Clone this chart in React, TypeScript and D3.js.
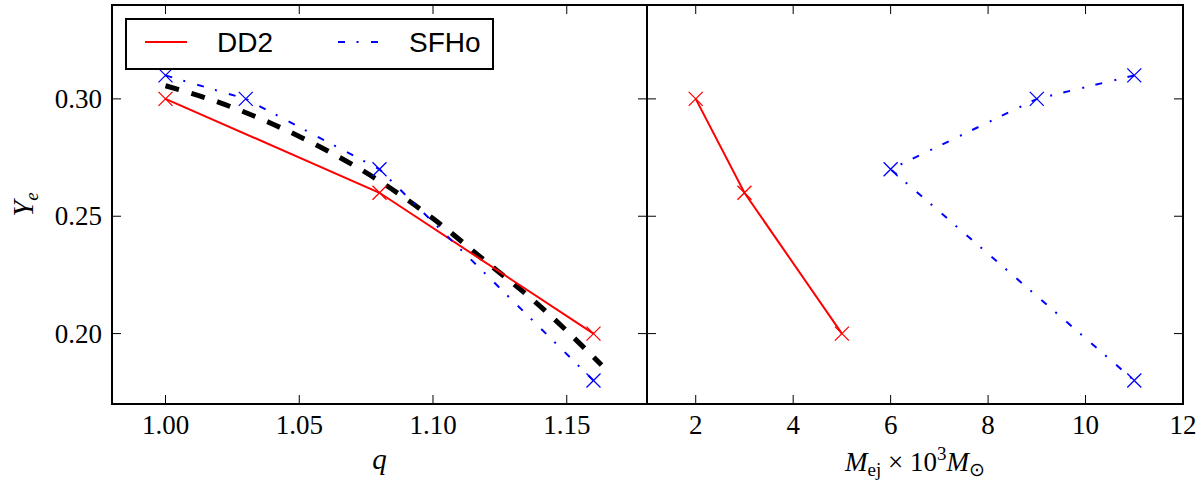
import React from "react";
import * as d3 from "d3";

// ---- data ----
const qDD2 = [1.0, 1.08, 1.16];
const yeDD2 = [0.30, 0.26, 0.20];
const mejDD2 = [2, 3, 5];

const qSFHo = [1.0, 1.03, 1.08, 1.16];
const yeSFHo = [0.31, 0.30, 0.27, 0.18];
const mejSFHo = [11, 9, 6, 11];

const fitQ = [1.0, 1.02, 1.04, 1.06, 1.08, 1.10, 1.12, 1.14, 1.163];
const fitYe = [0.3056, 0.2985, 0.2893, 0.2782, 0.2650, 0.2490, 0.2305, 0.2117, 0.1866];

const qTicks = [1.0, 1.05, 1.1, 1.15];
const mTicks = [2, 4, 6, 8, 10, 12];
const yTicks = [0.2, 0.25, 0.3];

const legendLabels = ["DD2", "SFHo"];

// ---- layout ----
const W = 1202;
const H = 480;
const TOP = 5;
const BOTTOM = 404;
const L0 = 112;
const L1 = 647;
const R0 = 647;
const R1 = 1183;

const RED = "#ff0000";
const BLUE = "#0000ff";
const DASHDOT = "7 11.5 2 12.5";
const serif = "Liberation Serif";
const sans = "Liberation Sans";

const xq = d3.scaleLinear().domain([0.98, 1.18]).range([L0, L1]);
const xm = d3.scaleLinear().domain([1, 12]).range([R0, R1]);
const y = d3.scaleLinear().domain([0.17, 0.34]).range([BOTTOM, TOP]);

function Marker({ cx, cy, color }: { cx: number; cy: number; color: string }) {
  const s = 7;
  return (
    <path
      d={`M${cx - s},${cy - s}L${cx + s},${cy + s}M${cx - s},${cy + s}L${cx + s},${cy - s}`}
      stroke={color}
      strokeWidth={1.3}
      fill="none"
    />
  );
}

function Frame({
  x,
  x0,
  x1,
  xticks,
  fmt,
  showY,
}: {
  x: d3.ScaleLinear<number, number>;
  x0: number;
  x1: number;
  xticks: number[];
  fmt: (v: number) => string;
  showY: boolean;
}) {
  const tl = 9;
  return (
    <g>
      {xticks.map((t) => (
        <g key={"xt" + t}>
          <line x1={x(t)} x2={x(t)} y1={BOTTOM} y2={BOTTOM - tl} stroke="#000" strokeWidth={1} />
          <line x1={x(t)} x2={x(t)} y1={TOP} y2={TOP + tl} stroke="#000" strokeWidth={1} />
          <text
            x={x(t)}
            y={434}
            textAnchor="middle"
            style={{ fontFamily: serif, fontSize: "27px" }}
            fill="#000"
          >
            {fmt(t)}
          </text>
        </g>
      ))}
      {yTicks.map((t) => (
        <g key={"yt" + t}>
          <line x1={x0} x2={x0 + tl} y1={y(t)} y2={y(t)} stroke="#000" strokeWidth={1} />
          <line x1={x1} x2={x1 - tl} y1={y(t)} y2={y(t)} stroke="#000" strokeWidth={1} />
          {showY && (
            <text
              x={102}
              y={y(t) + 9}
              textAnchor="end"
              style={{ fontFamily: serif, fontSize: "27px" }}
              fill="#000"
            >
              {t.toFixed(2)}
            </text>
          )}
        </g>
      ))}
      <rect x={x0} y={TOP} width={x1 - x0} height={BOTTOM - TOP} fill="none" stroke="#000" strokeWidth={2} />
    </g>
  );
}

export default function App() {
  const lineQ = d3
    .line<[number, number]>()
    .x((d) => xq(d[0]))
    .y((d) => y(d[1]));
  const lineM = d3
    .line<[number, number]>()
    .x((d) => xm(d[0]))
    .y((d) => y(d[1]));
  const fitLine = d3
    .line<[number, number]>()
    .x((d) => xq(d[0]))
    .y((d) => y(d[1]))
    .curve(d3.curveMonotoneX);

  const dd2Q: [number, number][] = qDD2.map((q, i) => [q, yeDD2[i]]);
  const sfhoQ: [number, number][] = qSFHo.map((q, i) => [q, yeSFHo[i]]);
  const dd2M: [number, number][] = mejDD2.map((m, i) => [m, yeDD2[i]]);
  const sfhoM: [number, number][] = mejSFHo.map((m, i) => [m, yeSFHo[i]]);
  const fit: [number, number][] = fitQ.map((q, i) => [q, fitYe[i]]);

  const legY = 42;
  const mathStyle = { fontFamily: serif, fontSize: "27px" };

  return (
    <svg
      width={W}
      height={H}
      viewBox={`0 0 ${W} ${H}`}
      style={{ position: "absolute", left: 0, top: 0, background: "#fff" }}
    >
      <rect x={0} y={0} width={W} height={H} fill="#fff" />
      <defs>
        <clipPath id="clipL">
          <rect x={L0} y={TOP} width={L1 - L0} height={BOTTOM - TOP} />
        </clipPath>
        <clipPath id="clipR">
          <rect x={R0} y={TOP} width={R1 - R0} height={BOTTOM - TOP} />
        </clipPath>
      </defs>

      {/* left panel */}
      <g clipPath="url(#clipL)">
        <path d={fitLine(fit) || ""} fill="none" stroke="#000" strokeWidth={5} strokeDasharray="14 13" />
        <path d={lineQ(dd2Q) || ""} fill="none" stroke={RED} strokeWidth={2} />
        <path d={lineQ(sfhoQ) || ""} fill="none" stroke={BLUE} strokeWidth={2} strokeDasharray={DASHDOT} />
        {dd2Q.map((d, i) => (
          <Marker key={"a" + i} cx={xq(d[0])} cy={y(d[1])} color={RED} />
        ))}
        {sfhoQ.map((d, i) => (
          <Marker key={"b" + i} cx={xq(d[0])} cy={y(d[1])} color={BLUE} />
        ))}
      </g>

      {/* right panel */}
      <g clipPath="url(#clipR)">
        <path d={lineM(dd2M) || ""} fill="none" stroke={RED} strokeWidth={2} />
        <path d={lineM(sfhoM) || ""} fill="none" stroke={BLUE} strokeWidth={2} strokeDasharray={DASHDOT} />
        {dd2M.map((d, i) => (
          <Marker key={"c" + i} cx={xm(d[0])} cy={y(d[1])} color={RED} />
        ))}
        {sfhoM.map((d, i) => (
          <Marker key={"d" + i} cx={xm(d[0])} cy={y(d[1])} color={BLUE} />
        ))}
      </g>

      <Frame x={xq} x0={L0} x1={L1} xticks={qTicks} fmt={(v) => v.toFixed(2)} showY={true} />
      <Frame x={xm} x0={R0} x1={R1} xticks={mTicks} fmt={(v) => String(v)} showY={false} />

      {/* legend */}
      <g>
        <rect x={126} y={19} width={367} height={50} fill="#fff" stroke="#000" strokeWidth={2} />
        <line x1={145} x2={187} y1={legY} y2={legY} stroke={RED} strokeWidth={2} />
        <text x={217} y={legY + 10} style={{ fontFamily: sans, fontSize: "28px" }} fill="#000">
          {legendLabels[0]}
        </text>
        <line x1={338} x2={378} y1={legY} y2={legY} stroke={BLUE} strokeWidth={2} strokeDasharray={DASHDOT} />
        <text x={409} y={legY + 10} style={{ fontFamily: sans, fontSize: "28px" }} fill="#000">
          {legendLabels[1]}
        </text>
      </g>

      {/* axis labels */}
      <text x={(L0 + L1) / 2} y={469} textAnchor="middle" style={{ ...mathStyle, fontSize: "29px", fontStyle: "italic" }} fill="#000">
        q
      </text>
      <text x={(R0 + R1) / 2} y={471} textAnchor="middle" style={mathStyle} fill="#000">
        <tspan style={{ fontStyle: "italic" }}>M</tspan>
        <tspan style={{ fontSize: "19px" }} dy={5}>ej</tspan>
        <tspan dy={-5}> × 10</tspan>
        <tspan style={{ fontSize: "19px" }} dy={-11}>3</tspan>
        <tspan dy={11} style={{ fontStyle: "italic" }}>M</tspan>
        <tspan style={{ fontSize: "19px" }} dy={5}>⊙</tspan>
      </text>
      <text
        transform={`translate(33, ${(TOP + BOTTOM) / 2}) rotate(-90)`}
        textAnchor="middle"
        style={{ ...mathStyle, fontSize: "29px" }}
        fill="#000"
      >
        <tspan style={{ fontStyle: "italic" }}>Y</tspan>
        <tspan style={{ fontStyle: "italic", fontSize: "19px" }} dy={5}>e</tspan>
      </text>
    </svg>
  );
}
